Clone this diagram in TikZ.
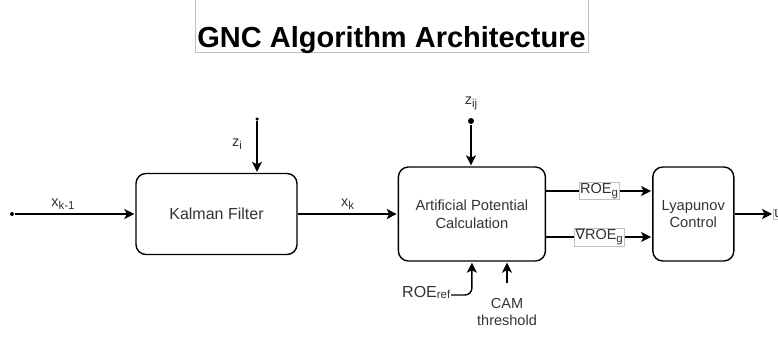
\documentclass[tikz,border=0pt]{standalone}
\usepackage{fontspec}
\setmainfont{Liberation Sans}
\newfontfamily\nablafont{DejaVu Sans}
\usetikzlibrary{arrows.meta,positioning}
\newcommand{\lsub}[1]{\raisebox{-3pt}{\fontsize{11.5}{13}\selectfont #1}}

\begin{document}
\begin{tikzpicture}[x=1pt, y=-1pt, shorten >=1pt, line width=1.4pt, >={Stealth[length=10pt,width=10pt,inset=2.5pt]},
	block/.style={draw, rounded corners=10pt, align=center, text=black!80, font=\fontsize{14.7}{17.5}\selectfont},
	lbl/.style={text=black!80, font=\fontsize{14.5}{17}\selectfont},
	tag/.style={lbl, draw=black!25, line width=.6pt, fill=white, inner sep=1pt},
	dot/.style={circle, fill, inner sep=0pt, minimum size=4pt}]
	\useasboundingbox (0,0) rectangle (778,337);
	% title
	\draw[black!25, line width=.8pt] (195,-5) rectangle (588,52);
	\node[anchor=base, font=\fontsize{29}{34}\selectfont\bfseries] (title) at (391.5,48) {GNC Algorithm Architecture};
	% blocks
	\node[block, minimum width=161pt, minimum height=81pt, font=\fontsize{16}{19}\selectfont] (kf) at (216.5,214) {Kalman Filter};
	\node[block, minimum width=147pt, minimum height=94pt] (apc) [right=100pt of kf] {Artificial Potential\\Calculation};
	\node[block, minimum width=81pt, minimum height=94pt] (lyap) [right=106pt of apc] {Lyapunov\\Control};
	% inputs and outputs
	\node[dot] (xin) at (12,214) {};
	\node[dot, minimum size=3.5pt] (zi) at (257,119) {};
	\node[dot, minimum size=6pt, label={[lbl, label distance=3pt]above:{z\lsub{ij}}}] (zij) at (471,121) {};
	\node[lbl, anchor=base east, inner sep=0pt, font=\fontsize{16}{19}\selectfont] (roeref) at (451,297) {ROE\raisebox{-1.5pt}{\fontsize{11.5}{13}\selectfont ref}};
	\coordinate (cam) at (507,283);
	\node[lbl, align=center, anchor=north] (camlbl) at (507,294) {CAM\\threshold};
	\node[tag, anchor=west] (u) at (773,214) {u};
	% connectors
	\draw[->] (xin) -- (kf) node[lbl, above, pos=.4] {x\lsub{k-1}};
	\draw[->] (zi) -- (zi |- kf.north) node[lbl, left=11pt, pos=.45] {z\lsub{i}};
	\draw[->] (kf) -- (apc) node[lbl, above, midway] {x\lsub{k}};
	\draw[->] (zij) -- (zij |- apc.north);
	\draw[->] ([yshift=23pt]apc.east) -- ([yshift=23pt]lyap.west) node[tag, midway] {ROE\lsub{g}};
	\draw[->] ([yshift=-23pt]apc.east) -- ([yshift=-23pt]lyap.west) node[tag, midway] {{\nablafont ∇}ROE\lsub{g}};
	\draw[->] (lyap) -- (u);
	\draw[->, rounded corners=7pt] ([yshift=2pt]roeref.base east) -| (apc.south);
	\draw[->] (cam) -- (cam |- apc.south);
\end{tikzpicture}
\end{document}
